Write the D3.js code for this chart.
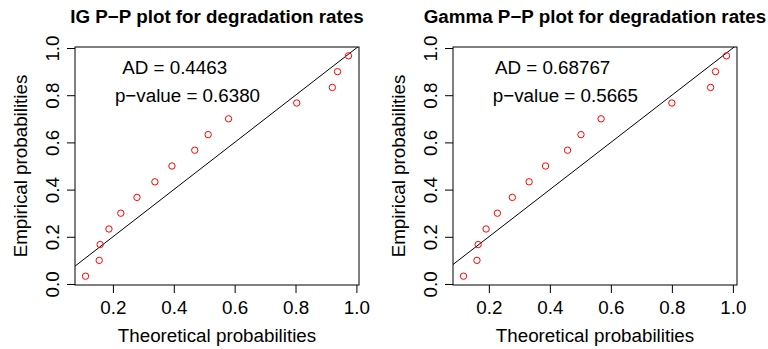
<!DOCTYPE html>
<html>
<head>
<meta charset="utf-8">
<script src="https://cdn.jsdelivr.net/npm/d3@7"></script>
<style>
  body { margin: 0; background: #fff; }
  svg text { font-family: "Liberation Sans", Arial, sans-serif; fill: #000; }
</style>
</head>
<body>
<div id="chart"></div>
<script>
// Daten: zwei P-P-Plots (IG und Gamma)
const titles = ["IG P\u2212P plot for degradation rates", "Gamma P\u2212P plot for degradation rates"];
const empirical = [0.033, 0.1, 0.167, 0.233, 0.3, 0.367, 0.433, 0.5, 0.567, 0.633, 0.7, 0.767, 0.833, 0.9, 0.967];
const igTheoretical = [0.110, 0.155, 0.158, 0.187, 0.226, 0.279, 0.338, 0.394, 0.469, 0.513, 0.580, 0.804, 0.921, 0.938, 0.974];
const gammaTheoretical = [0.117, 0.161, 0.165, 0.191, 0.228, 0.277, 0.332, 0.386, 0.458, 0.502, 0.568, 0.800, 0.927, 0.943, 0.979];
const xTicks = [0.2, 0.4, 0.6, 0.8, 1.0];
const yTicks = [0.0, 0.2, 0.4, 0.6, 0.8, 1.0];
const adLabels = ["AD = 0.4463", "AD = 0.68767"];
const pLabels = ["p\u2212value = 0.6380", "p\u2212value = 0.5665"];
// Position der Beschriftungen in Datenkoordinaten [x, y]
const adPos = [[0.403, 0.918], [0.409, 0.918]];
const pPos = [[0.445, 0.801], [0.451, 0.801]];

const panels = [igTheoretical, gammaTheoretical];

const W = 768, H = 349;
const box = { left: 75, top: 47, width: 284, height: 238 };
const panelOffset = 378;
const fs = 18.8;

const svg = d3.select("#chart").append("svg")
  .attr("width", W)
  .attr("height", H);

// R-Stil: Bereich der Daten um 4% erweitern
function padded(arr) {
  const e = d3.extent(arr);
  const p = (e[1] - e[0]) * 0.04;
  return [e[0] - p, e[1] + p];
}

panels.forEach(function (theo, k) {
  const g = svg.append("g")
    .attr("transform", "translate(" + (box.left + k * panelOffset) + "," + box.top + ")");

  const x = d3.scaleLinear().domain(padded(theo)).range([0, box.width]);
  const y = d3.scaleLinear().domain(padded(empirical)).range([box.height, 0]);

  const clipId = "clip" + k;
  g.append("clipPath").attr("id", clipId)
    .append("rect").attr("width", box.width).attr("height", box.height);

  // Achsen
  const xAxis = d3.axisBottom(x).tickValues(xTicks).tickSize(8).tickPadding(6)
    .tickFormat(d3.format(".1f"));
  const yAxis = d3.axisLeft(y).tickValues(yTicks).tickSize(8).tickPadding(6)
    .tickFormat(d3.format(".1f"));

  const gx = g.append("g")
    .attr("transform", "translate(0," + box.height + ")")
    .call(xAxis)
    .call(a => a.select(".domain").remove());
  gx.selectAll(".tick line").attr("stroke", "#000");
  gx.selectAll(".tick text")
    .attr("y", 28.5).attr("dy", null)
    .style("font-size", fs + "px");

  const gy = g.append("g")
    .call(yAxis)
    .call(a => a.select(".domain").remove());
  gy.selectAll(".tick line").attr("stroke", "#000");
  gy.selectAll(".tick text")
    .attr("x", null).attr("dy", null)
    .attr("text-anchor", "middle")
    .attr("transform", "translate(-16.5,0) rotate(-90)")
    .style("font-size", fs + "px");

  // Diagonale y = x
  const xd = x.domain();
  g.append("line")
    .attr("clip-path", "url(#" + clipId + ")")
    .attr("x1", x(xd[0])).attr("y1", y(xd[0]))
    .attr("x2", x(xd[1])).attr("y2", y(xd[1]))
    .attr("stroke", "#000").attr("stroke-width", 1);

  // Punkte
  g.selectAll(".pt")
    .data(theo)
    .enter().append("circle")
    .attr("class", "pt")
    .attr("cx", function (d) { return x(d); })
    .attr("cy", function (d, i) { return y(empirical[i]); })
    .attr("r", 3.2)
    .attr("fill", "none")
    .attr("stroke", "#ff0000")
    .attr("stroke-width", 1);

  // Rahmen
  g.append("rect")
    .attr("width", box.width).attr("height", box.height)
    .attr("fill", "none").attr("stroke", "#000").attr("stroke-width", 1);

  // Statistik-Text
  g.append("text")
    .attr("x", x(adPos[k][0])).attr("y", y(adPos[k][1]))
    .attr("dy", "0.36em").attr("text-anchor", "middle")
    .style("font-size", fs + "px")
    .text(adLabels[k]);
  g.append("text")
    .attr("x", x(pPos[k][0])).attr("y", y(pPos[k][1]))
    .attr("dy", "0.36em").attr("text-anchor", "middle")
    .style("font-size", fs + "px")
    .text(pLabels[k]);

  // Titel
  g.append("text")
    .attr("x", box.width / 2).attr("y", 23 - box.top)
    .attr("text-anchor", "middle")
    .style("font-size", fs + "px").style("font-weight", "bold")
    .text(titles[k]);

  // Achsentitel
  g.append("text")
    .attr("x", box.width / 2).attr("y", box.height + 57)
    .attr("text-anchor", "middle")
    .style("font-size", fs + "px")
    .text("Theoretical probabilities");
  g.append("text")
    .attr("transform", "translate(-48," + (box.height / 2) + ") rotate(-90)")
    .attr("text-anchor", "middle")
    .style("font-size", fs + "px")
    .text("Empirical probabilities");
});
</script>
</body>
</html>
